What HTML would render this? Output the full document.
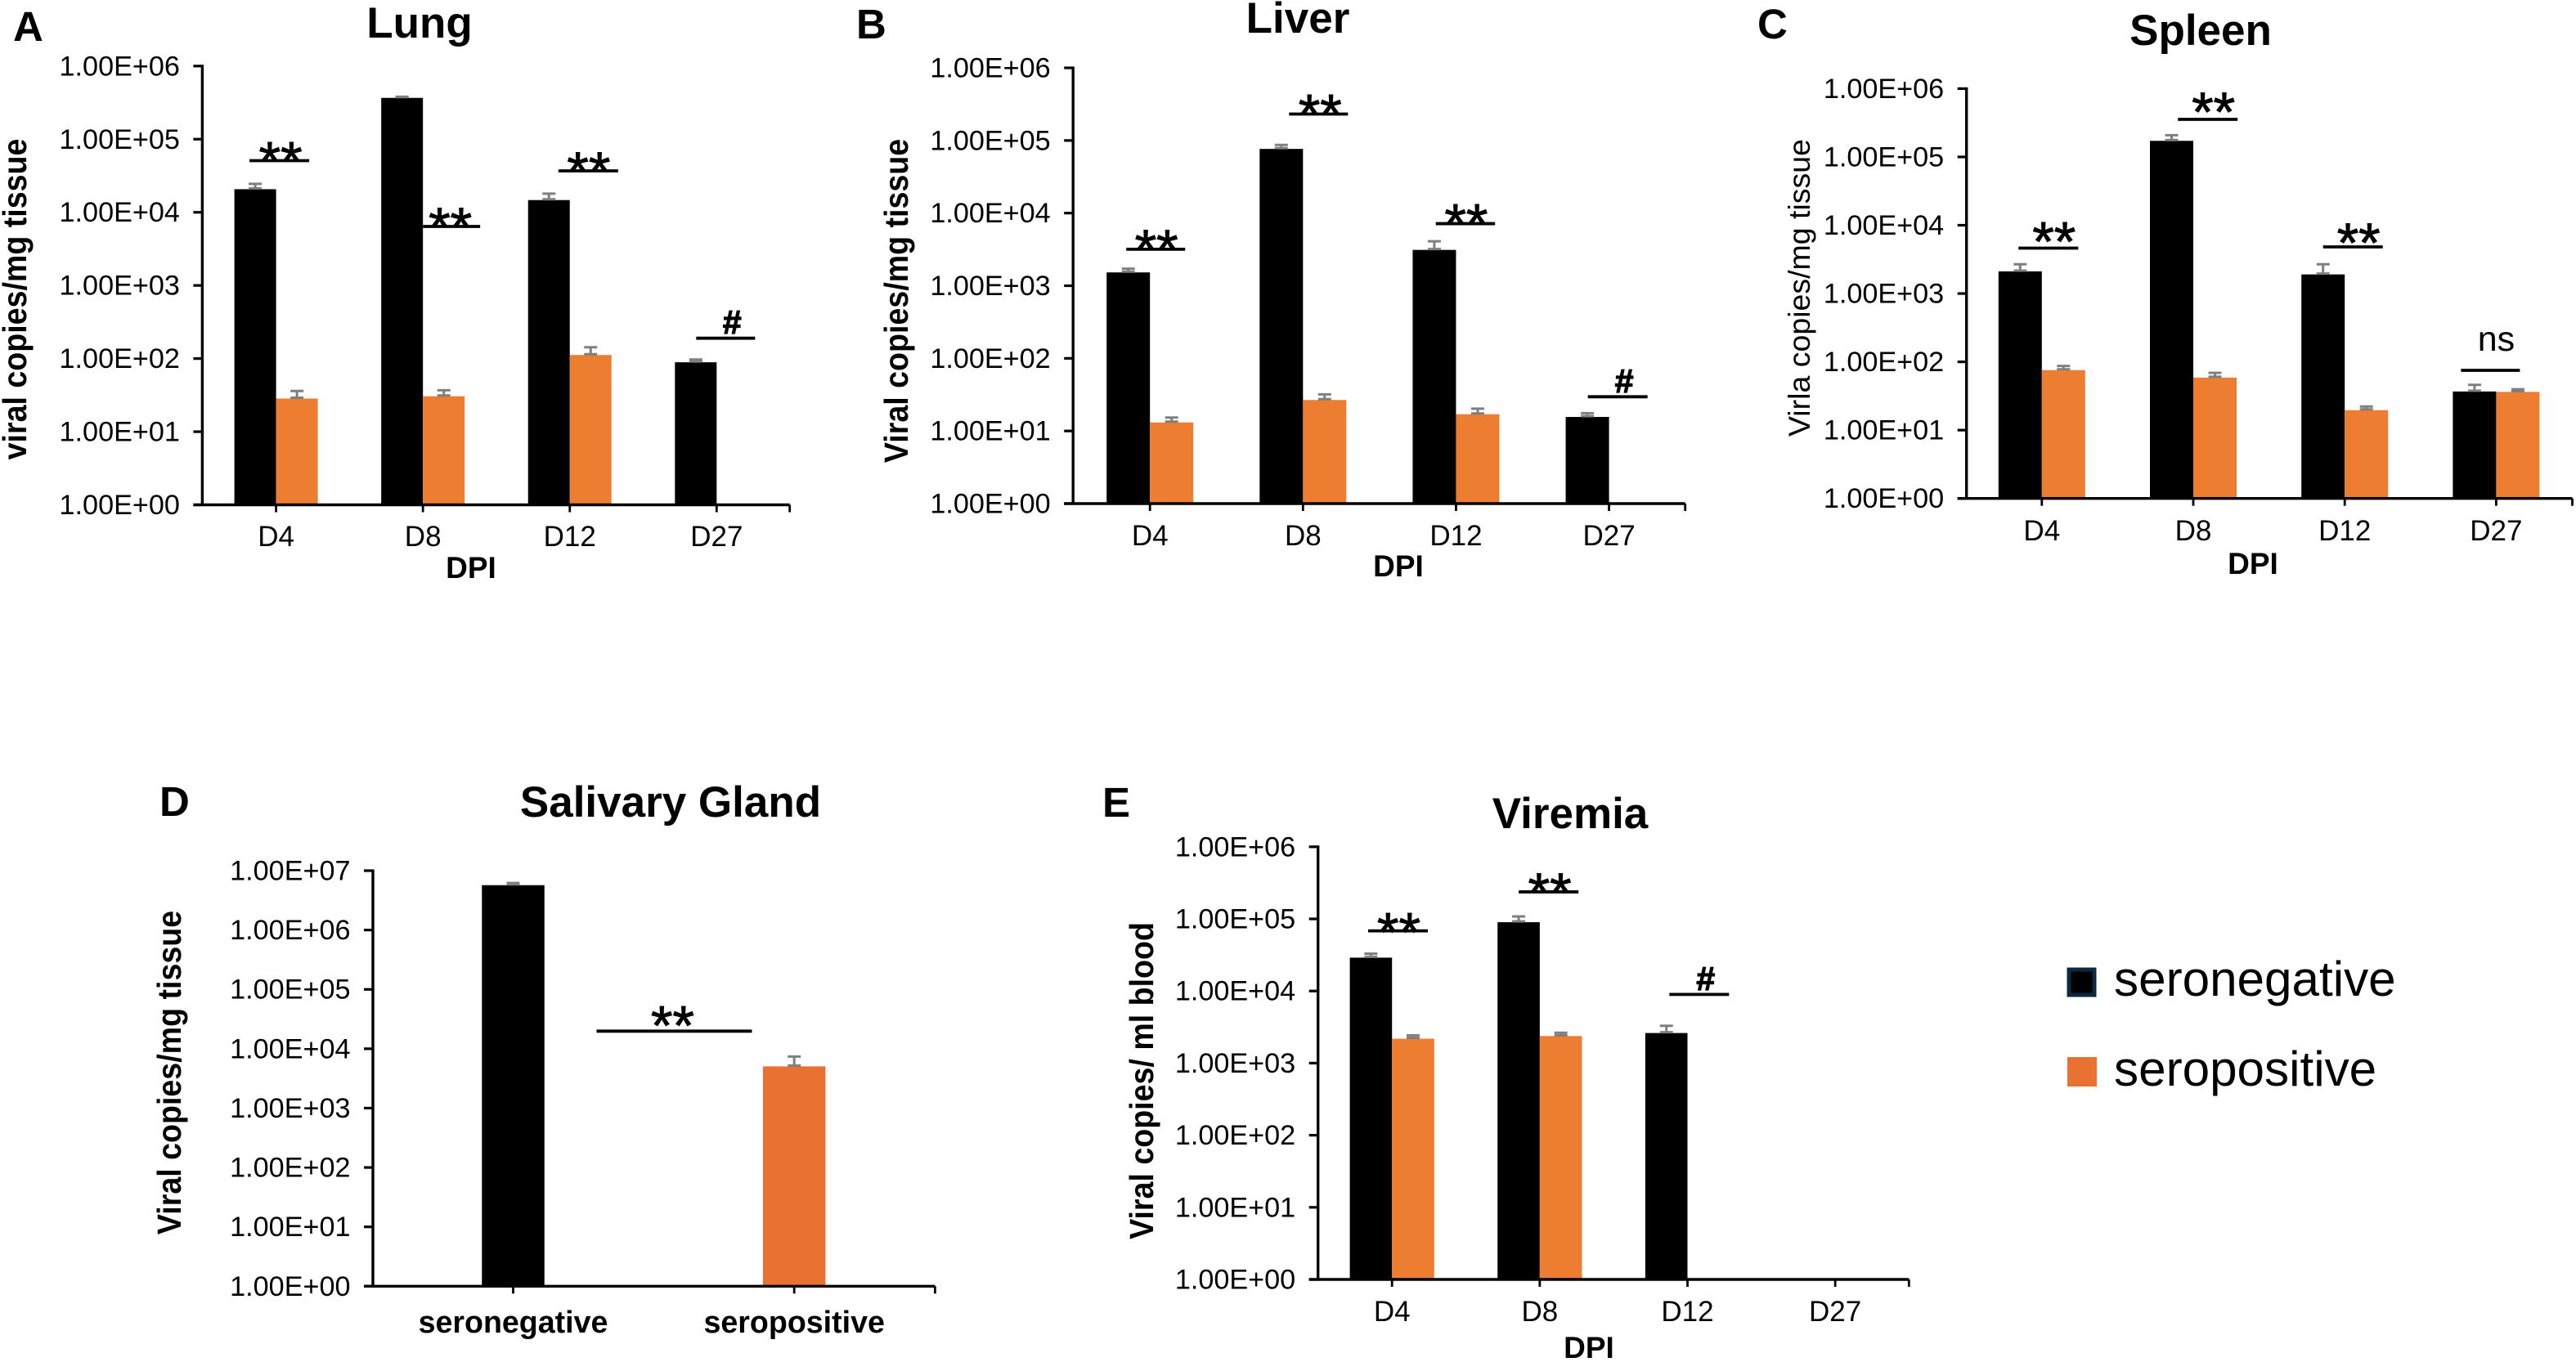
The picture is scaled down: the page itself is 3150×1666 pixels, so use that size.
<!DOCTYPE html>
<html lang="en">
<head>
<meta charset="utf-8">
<title>Viral copies by tissue</title>
<style>
html,body{margin:0;padding:0;background:#fff;}
svg{display:block;font-family:"Liberation Sans",sans-serif;}
.letter{font-weight:700;font-size:51px;fill:#000;}
.title{font-weight:700;font-size:53px;fill:#000;text-anchor:middle;}
.ylab{font-weight:700;font-size:37.6px;fill:#000;text-anchor:middle;}
.ylabn{font-weight:400;font-size:37.5px;fill:#000;text-anchor:middle;}
.xlab{font-weight:700;font-size:37px;fill:#000;text-anchor:middle;}
.legend{font-size:60.2px;fill:#000;}
</style>
</head>
<body>
<svg id="fig" xmlns="http://www.w3.org/2000/svg" width="3150" height="1666" viewBox="0 0 3150 1666">
  <rect x="0" y="0" width="3150" height="1666" fill="#fff"/>

  <g id="panel-a">
    <text class="letter" x="16" y="50">A</text>
    <text class="title" x="513" y="46">Lung</text>
    <text class="ylab" transform="translate(32,366) rotate(-90) scale(1,1.08)">viral copies/mg tissue</text>
    <text class="xlab" x="576" y="707">DPI</text>
  </g>
  <g id="panel-b">
    <text class="letter" x="1047" y="47">B</text>
    <text class="title" x="1587" y="40">Liver</text>
    <text class="ylab" transform="translate(1110,368) rotate(-90) scale(1,1.08)">Viral copies/mg tissue</text>
    <text class="xlab" x="1710" y="705">DPI</text>
  </g>
  <g id="panel-c">
    <text class="letter" x="2149" y="47">C</text>
    <text class="title" x="2691" y="55">Spleen</text>
    <text class="ylabn" transform="translate(2213,352) rotate(-90)">Virla copies/mg tissue</text>
    <text class="xlab" x="2755" y="702">DPI</text>
  </g>
  <g id="panel-d">
    <text class="letter" x="195" y="998">D</text>
    <text class="title" x="820" y="999">Salivary Gland</text>
    <text class="ylab" transform="translate(221,1312) rotate(-90) scale(1,1.08)">Viral copies/mg tissue</text>
  </g>
  <g id="panel-e">
    <text class="letter" x="1348" y="999">E</text>
    <text class="title" x="1920" y="1013">Viremia</text>
    <text class="ylab" transform="translate(1410,1322) rotate(-90) scale(1,1.08)">Viral copies/ ml blood</text>
    <text class="xlab" x="1943" y="1661">DPI</text>
  </g>

  <g id="legend">
    <g>
      <rect x="2530" y="1186" width="31" height="31" fill="#000" stroke="#0b2a3f" stroke-width="5"/>
      <text class="legend" x="2585" y="1218">seronegative</text>
    </g>
    <g>
      <rect x="2528" y="1293" width="36" height="36" fill="#E97132"/>
      <text class="legend" x="2585" y="1328">seropositive</text>
    </g>
  </g>
</svg>

<script>
// ---------- chart data ----------
const dpiCategories = ['D4', 'D8', 'D12', 'D27'];
const salivaryCategories = ['seronegative', 'seropositive'];
const tickLabels6 = ['1.00E+00', '1.00E+01', '1.00E+02', '1.00E+03', '1.00E+04', '1.00E+05', '1.00E+06'];
const tickLabels7 = ['1.00E+00', '1.00E+01', '1.00E+02', '1.00E+03', '1.00E+04', '1.00E+05', '1.00E+06', '1.00E+07'];

const lungNegative = [20700, 367000, 14700, 89];
const lungPositive = [28.4, 30.5, 112, null];
const lungNegativeErr = [24500, 380000, 18000, 97];
const lungPositiveErr = [36, 36.8, 143, null];
const lungSigLevels = [50900, 6410, 36900, 190];
const lungSigLabels = ['**', '**', '**', '#'];

const liverNegative = [1525, 76500, 3115, 15.6];
const liverPositive = [13.1, 26.7, 17, null];
const liverNegativeErr = [1718, 87000, 4095, 17.6];
const liverPositiveErr = [15.3, 31.9, 20.3, null];
const liverSigLevels = [3180, 231000, 7160, 29.6];
const liverSigLabels = ['**', '**', '**', '#'];

const spleenNegative = [2110, 172000, 1905, 36.8];
const spleenPositive = [75.7, 58.8, 19.6, 36.3];
const spleenNegativeErr = [2680, 208000, 2680, 46];
const spleenPositiveErr = [87, 69, 22.2, 39.7];
const spleenSigLevels = [4620, 355000, 4820, 75.1];
const spleenSigLabels = ['**', '**', '**', 'ns'];

const salivaryValues = [5700000, 5050];
const salivaryErr = [6200000, 7390];
const salivarySigLevels = [19800];
const salivarySigLabels = ['**'];

const viremiaNegative = [29000, 90000, 2613, null];
const viremiaPositive = [2181, 2372, null, null];
const viremiaNegativeErr = [33000, 108000, 3289, null];
const viremiaPositiveErr = [2430, 2640, null, null];
const viremiaSigLevels = [68300, 237000, 8960];
const viremiaSigLabels = ['**', '**', '#'];

// ---------- drawing ----------
const SVGNS = 'http://www.w3.org/2000/svg';
const BLACK = '#000000';
const ORANGE = '#ED7D31';
const ORANGE_D = '#E97132';
const GREY = '#7f7f7f';

function make(parent, tag, attrs, text) {
  const el = document.createElementNS(SVGNS, tag);
  for (const k in attrs) el.setAttribute(k, attrs[k]);
  if (text !== undefined) el.textContent = text;
  parent.appendChild(el);
  return el;
}

function makeYScale(g) {
  const decade = (g.bottom - g.top) / g.decades;
  return function (v) { return g.bottom - Math.log10(v) * decade; };
}

function makeXScale(g, n) {
  const step = (g.right - g.axisX) / n;
  return function (i) { return g.firstTick + i * step; };
}

function drawAxes(group, g, cats, tickLabels, y, x) {
  const yAxis = make(group, 'line', { x1: g.axisX, x2: g.axisX, y1: g.top - 1.5, y2: g.bottom, stroke: '#000', 'stroke-width': 3.4 });
  
  
  const xAxis = make(group, 'line', { x1: g.axisX - 11, x2: g.right, y1: g.bottom, y2: g.bottom, stroke: '#000', 'stroke-width': 3.4 });
  
  

  tickLabels.forEach(function (label, i) {
    const ty = y(Math.pow(10, i));
    const tick = make(group, 'line', { x1: g.axisX - 11, x2: g.axisX, y1: ty, y2: ty, stroke: '#000', 'stroke-width': 3.2 });
    
    
    const txt = make(group, 'text', { x: g.axisX - 27.5, y: ty + 11.5, 'text-anchor': 'end', 'font-size': 34.2, fill: '#000' }, label);
    
    
  });

  cats.forEach(function (cat, i) {
    const cx = x(i);
    const tick = make(group, 'line', { x1: cx, x2: cx, y1: g.bottom, y2: g.bottom + 9, stroke: '#000', 'stroke-width': 2.8 });
    
    
    const txt = make(group, 'text', { x: cx, y: g.catY, 'text-anchor': 'middle', 'font-size': g.catSize, 'font-weight': g.catWeight, fill: '#000' }, cat);
    
    
  });
  const endTick = make(group, 'line', { x1: g.right, x2: g.right, y1: g.bottom, y2: g.bottom + 9, stroke: '#000', 'stroke-width': 2.8 });
  
  
}

function drawBar(group, g, y, left, value, color) {
  const top = y(value);
  const rect = make(group, 'rect', { x: left, y: top, width: g.barW, height: g.bottom - top - 1, fill: color });
  
  
}

function drawError(group, y, cx, value, err) {
  const yLow = y(value) - 1;
  const yHigh = y(err);
  const stem = make(group, 'line', { x1: cx, x2: cx, y1: yLow, y2: yHigh, stroke: GREY, 'stroke-width': 3 });
  
  
  const capTop = make(group, 'line', { x1: cx - 8, x2: cx + 8, y1: yHigh, y2: yHigh, stroke: GREY, 'stroke-width': 3 });
  
  
  const capLow = make(group, 'line', { x1: cx - 8, x2: cx + 8, y1: yLow, y2: yLow, stroke: GREY, 'stroke-width': 3 });
  
  
}

function drawSig(group, y, x, level, label, s) {
  const ly = y(level);
  const cx = x(s.cat) + s.dx;
  const line = make(group, 'line', { x1: cx - s.w / 2, x2: cx + s.w / 2, y1: ly, y2: ly, stroke: '#000', 'stroke-width': 3.8 });
  
  
  let attrs;
  if (label === '#') {
    attrs = { x: cx + 8, y: ly - 5.5, 'text-anchor': 'middle', 'font-size': 41, 'font-weight': 700, fill: '#000', stroke: '#000', 'stroke-width': 1.2 };
  } else if (label === 'ns') {
    attrs = { x: cx + 7, y: ly - 24, 'text-anchor': 'middle', 'font-size': 43, fill: '#000' };
  } else {
    attrs = { x: cx + s.tx, y: ly - s.lift + 38, 'text-anchor': 'middle', 'font-size': 68, 'font-weight': 400, fill: '#000', stroke: '#000', 'stroke-width': 1 };
  }
  const txt = make(group, 'text', attrs, label);
  
  
}

function drawGrouped(id, g, neg, pos, negErr, posErr, sigLevels, sigLabels, sigLayout) {
  const group = document.getElementById(id);
  const y = makeYScale(g);
  const x = makeXScale(g, dpiCategories.length);
  dpiCategories.forEach(function (cat, i) {
    const cx = x(i);
    if (neg[i] !== null) {
      drawBar(group, g, y, cx - g.barW, neg[i], BLACK);
      drawError(group, y, cx - g.barW / 2, neg[i], negErr[i]);
    }
    if (pos[i] !== null) {
      drawBar(group, g, y, cx, pos[i], ORANGE);
      drawError(group, y, cx + g.barW / 2, pos[i], posErr[i]);
    }
  });
  drawAxes(group, g, dpiCategories, tickLabels6, y, x);
  sigLevels.forEach(function (level, i) {
    drawSig(group, y, x, level, sigLabels[i], sigLayout[i]);
  });
}

function drawSalivary() {
  const g = { axisX: 456, firstTick: 627.5, right: 1143.4, top: 1065, bottom: 1573.3, decades: 7, barW: 76.5, catY: 1630, catSize: 37.6, catWeight: 700 };
  const group = document.getElementById('panel-d');
  const y = makeYScale(g);
  const x = makeXScale(g, 2);
  const colors = [BLACK, ORANGE_D];
  salivaryCategories.forEach(function (cat, i) {
    const cx = x(i);
    drawBar(group, g, y, cx - g.barW / 2, salivaryValues[i], colors[i]);
    drawError(group, y, cx, salivaryValues[i], salivaryErr[i]);
  });
  drawAxes(group, g, salivaryCategories, tickLabels7, y, x);
  const sigLayout = [{ cat: 0, dx: 197, w: 190, tx: -2, lift: 22 }];
  salivarySigLevels.forEach(function (level, i) {
    drawSig(group, y, x, level, salivarySigLabels[i], sigLayout[i]);
  });
}

drawGrouped('panel-a',
  { axisX: 247.4, firstTick: 337.6, right: 965.7, top: 80.8, bottom: 617.5, decades: 6, barW: 51, catY: 668, catSize: 35, catWeight: 400 },
  lungNegative, lungPositive, lungNegativeErr, lungPositiveErr, lungSigLevels, lungSigLabels,
  [{ cat: 0, dx: 4, w: 73, tx: 1.5, lift: 14 }, { cat: 1, dx: 35, w: 70, tx: -1.5, lift: 14 }, { cat: 2, dx: 22.6, w: 73, tx: 0.5, lift: 14 }, { cat: 3, dx: 11, w: 72, tx: 0, lift: 14 }]);

drawGrouped('panel-b',
  { axisX: 1312.2, firstTick: 1406.2, right: 2060.7, top: 83, bottom: 616, decades: 6, barW: 53, catY: 667, catSize: 35, catWeight: 400 },
  liverNegative, liverPositive, liverNegativeErr, liverPositiveErr, liverSigLevels, liverSigLabels,
  [{ cat: 0, dx: 7, w: 72, tx: 1, lift: 15 }, { cat: 1, dx: 19, w: 72, tx: 2, lift: 15 }, { cat: 2, dx: 11.5, w: 72.5, tx: 1, lift: 15 }, { cat: 3, dx: 10.6, w: 73, tx: 0, lift: 14 }]);

drawGrouped('panel-c',
  { axisX: 2404.7, firstTick: 2496.8, right: 3145.5, top: 108.4, bottom: 609.7, decades: 6, barW: 53, catY: 661, catSize: 35, catWeight: 400 },
  spleenNegative, spleenPositive, spleenNegativeErr, spleenPositiveErr, spleenSigLevels, spleenSigLabels,
  [{ cat: 0, dx: 8, w: 73, tx: 7, lift: 23 }, { cat: 1, dx: 17.7, w: 73, tx: 7, lift: 24 }, { cat: 2, dx: 10, w: 73, tx: 7, lift: 20 }, { cat: 3, dx: -7, w: 72, tx: 7, lift: 22 }]);

drawSalivary();

drawGrouped('panel-e',
  { axisX: 1611.7, firstTick: 1702.2, right: 2334.3, top: 1035.8, bottom: 1565, decades: 6, barW: 51.6, catY: 1616, catSize: 35, catWeight: 400 },
  viremiaNegative, viremiaPositive, viremiaNegativeErr, viremiaPositiveErr, viremiaSigLevels, viremiaSigLabels,
  [{ cat: 0, dx: 7.3, w: 73, tx: 1, lift: 13 }, { cat: 1, dx: 10.8, w: 73, tx: 1.5, lift: 14 }, { cat: 2, dx: 14.3, w: 73, tx: 0, lift: 14 }]);
</script>
</body>
</html>
